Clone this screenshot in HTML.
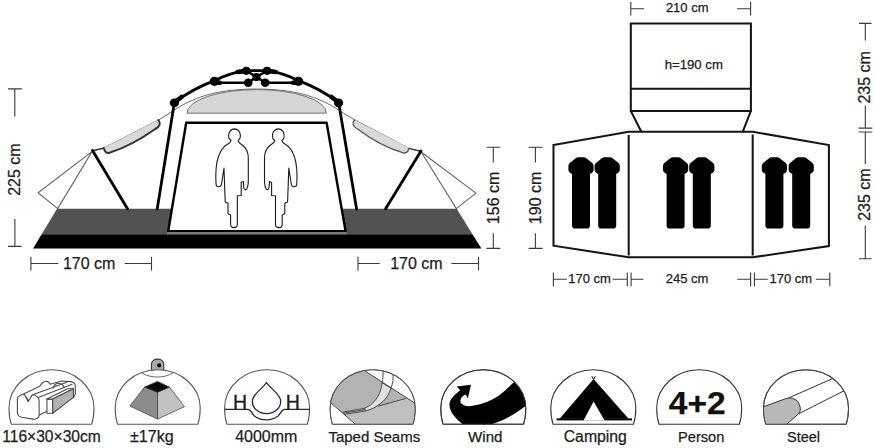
<!DOCTYPE html>
<html>
<head>
<meta charset="utf-8">
<title>Tent dimensions</title>
<style>
html,body{margin:0;padding:0;background:#fff;}
body{width:875px;height:448px;overflow:hidden;font-family:"Liberation Sans",sans-serif;}
svg{display:block;}
text{font-family:"Liberation Sans",sans-serif;fill:#1c1c1c;stroke:#1c1c1c;stroke-width:0.25px;}
.dim{stroke:#3a3a3a;stroke-width:1.1;fill:none;}
.pole{stroke:#000;stroke-width:2.8;fill:none;stroke-linecap:round;stroke-linejoin:round;}
.thin{stroke:#444;stroke-width:0.8;fill:none;}
.plan{stroke:#151515;stroke-width:2.05;fill:none;stroke-linejoin:miter;}
.dome{stroke:#585858;stroke-width:1.1;fill:#fff;}
.j{fill:#000;}
</style>
</head>
<body>
<svg width="875" height="448" viewBox="0 0 875 448">
<rect width="875" height="448" fill="#fff"/>

<!-- ================= SIDE VIEW ================= -->
<g id="side">
  <!-- ground bands -->
  <polygon points="57.1,208.7 171.6,208.7 167.4,234.3 41.7,234.3" fill="#525252"/>
  <polygon points="342.1,208.8 456.7,208.8 472.5,234.3 346.5,234.3" fill="#525252"/>
  <polygon points="41.6,234.2 472.5,234.2 481.4,248.6 33.1,248.6" fill="#000"/>

  <!-- thin guy triangles -->
  <path d="M92,151.6 L38.1,192.7 L57.7,208.6 Z" fill="none" stroke="#666" stroke-width="1.1" stroke-linejoin="round"/>
  <path d="M421.2,152 L475.9,193.1 L456.4,208.6 Z" fill="none" stroke="#666" stroke-width="1.1" stroke-linejoin="round"/>

  <!-- fly outline thin -->
  <path class="thin" d="M92,151.6 L103.7,148.1 L158.6,120 L172.3,111.4 C177,108.2 182,105.2 185.7,103.4 C190,101.3 196,98.8 199.1,97.6 C215,91.5 236,89 256.4,89 C277,89 298,91.5 313.7,97.6 C317,98.8 323,101.3 327.1,103.4 C331,105.2 336,108.2 340.5,111.4 L354.1,119.6 L409.3,148.5 L421.2,152"/>

  <!-- roof window (gray dome) -->
  <path d="M187,113.2 A69.7,23.6 0 0 1 326.4,113.2 Z" fill="#d6d6d6" stroke="#555" stroke-width="0.8"/>

  <!-- flaps -->
  <path d="M158.4,120 C160.8,123 160.3,126.3 155.3,129 Q131.8,145.6 109.5,152.8 C106.3,153.8 104.6,151.5 103.7,148.1 Z" fill="#dadada"/>
  <path d="M158.4,120 C160.8,123 160.3,126.3 155.3,129 Q131.8,145.6 109.5,152.8 C106.3,153.8 104.6,151.5 103.7,148.1" fill="none" stroke="#333" stroke-width="2" stroke-linejoin="round" stroke-linecap="round"/>
  <path d="M354.4,120 C352,123 352.5,126.3 357.5,129 Q381,146.6 403.3,152.8 C406.5,153.8 408.2,151.5 409.1,148.1 Z" fill="#dadada"/>
  <path d="M354.4,120 C352,123 352.5,126.3 357.5,129 Q381,146.6 403.3,152.8 C406.5,153.8 408.2,151.5 409.1,148.1" fill="none" stroke="#555" stroke-width="1.4" stroke-linejoin="round" stroke-linecap="round"/>

  <!-- apex short connectors -->
  <path d="M92.5,150.5 L103.7,148.1" stroke="#222" stroke-width="1.1" fill="none"/>
  <path d="M421,151 L409.3,148.5" stroke="#222" stroke-width="1.1" fill="none"/>

  <!-- A-frame thick legs -->
  <path class="pole" d="M92.5,150.5 L127.5,208.7"/>
  <path class="pole" d="M421,151 L385.6,208.8"/>

  <!-- main poles -->
  <path class="pole" d="M174.4,102.5 L157.2,209"/>
  <path class="pole" d="M338.6,102.5 L356.6,209"/>

  <!-- door frame -->
  <path d="M168.2,231.2 L186.2,122.8 L326.6,122.8 L345.6,231.2 Z" fill="#fff" stroke="#000" stroke-width="2.4" stroke-linejoin="round"/>
  <rect x="167.6" y="232.4" width="179" height="1.8" fill="#777"/>

  <!-- roof hub poles -->
  <path class="pole" d="M174.4,102.5 Q193,88.5 214.7,80.6 Q231,72.5 246.2,70.7 L266.8,70.7 Q282,72.5 298.3,80.6 Q320,88.5 338.6,102.5"/>
  <path class="pole" style="stroke-width:2.4" d="M213,82.8 L248,82.8 M265,82.8 L300,82.8"/>
  <path class="pole" style="stroke-width:2.5" d="M246.3,70.7 L256.5,77 L265.2,82.7 M267,70.7 L256.5,77 L248.2,82.7"/>
  <ellipse class="j" cx="174.4" cy="102.8" rx="4.6" ry="4.4"/>
  <ellipse class="j" cx="338.6" cy="102.8" rx="4.6" ry="4.4"/>
  <ellipse class="j" cx="214.5" cy="81.3" rx="4.8" ry="4.6"/>
  <ellipse class="j" cx="298.5" cy="81.3" rx="4.8" ry="4.6"/>
  <circle class="j" cx="246.3" cy="70.8" r="4.1"/>
  <path class="pole" style="stroke-width:4.6" d="M246.3,70.9 L237.5,72 M267,70.9 L275.8,72 M174.6,102.3 L181.5,97 M338.4,102.3 L331.5,97 M214.5,82.3 L220,82.8 M298.5,82.3 L293,82.8"/>
  <circle class="j" cx="267" cy="70.8" r="4.1"/>
  <circle class="j" cx="256.5" cy="77" r="4.1"/>
  <circle class="j" cx="248.2" cy="82.7" r="4.3"/>
  <circle class="j" cx="265.2" cy="82.7" r="4.3"/>

  <!-- people -->
  <g fill="#fff" stroke="#1a1a1a" stroke-width="1.1" stroke-linejoin="round">
    <path id="man" d="M231,140.5 C227.4,138.2 227.6,129.6 234.5,128.9 C241.4,129.6 241.6,138.2 238,140.5 C238.3,143 241,143.8 243.5,146 C247.2,149.5 248.3,153.5 248.3,158 L248.3,180.5 C248.3,184 247.6,187.5 246.6,189 C245.6,190.2 244,189.6 243.8,187.5 L243.3,181.5 L241.2,182.5 L241.2,195.5 L237.3,195.8 L237.3,224.5 C237.3,228.6 230.6,228.6 230.6,224.5 L230.6,215 L228,213.8 L228,203.3 L225.2,202 L224,168 L221.5,184 C221,187.6 216.2,187.8 216,184 C215.5,174 216.6,162 218.3,157 C220.5,150.5 224.5,146 227.5,144.3 C230,143 230.8,142.5 231,140.3 Z"/>
    <use href="#man" transform="translate(512.8,0) scale(-1,1)"/>
  </g>
</g>

<!-- side view dimensions -->
<g class="dim">
  <path d="M8,88.9 H21.8 M14.8,88.9 V116.4 M14.9,219 V246.4 M8,246.4 H21.6"/>
  <path d="M30.9,256.7 V270.4 M30.9,263.5 H58.2 M124.6,263.5 H151.5 M151.5,256.7 V270.4"/>
  <path d="M358,256.7 V270.4 M358,263.5 H379.8 M451.3,263.5 H478.5 M478.5,256.7 V270.4"/>
  <path d="M486.4,147.3 H500.3 M493.3,147.3 V162.4 M493.3,233.3 V248.4 M486.4,248.4 H500.3"/>
  <path d="M528.6,147.3 H542.6 M535.4,147.3 V162.4 M535.4,233.3 V248.4 M528.6,248.4 H542.6"/>
</g>
<text font-size="16" transform="translate(20,169.6) rotate(-90)" text-anchor="middle">225 cm</text>
<text font-size="16" x="89.2" y="269.3" text-anchor="middle">170 cm</text>
<text font-size="16" x="416.4" y="269.3" text-anchor="middle">170 cm</text>
<text font-size="16" transform="translate(499.2,197.9) rotate(-90)" text-anchor="middle">156 cm</text>
<text font-size="16" transform="translate(541.3,197.9) rotate(-90)" text-anchor="middle">190 cm</text>

<!-- ================= PLAN VIEW ================= -->
<g id="plan">
  <path class="plan" d="M630.8,23.4 H750.9 V110.9 H630.8 Z M630.8,88.7 H750.9"/>
  <path class="plan" d="M630.8,110.9 L641.3,131.7 M750.9,110.9 L742.8,131.7"/>
  <path class="plan" d="M553.5,144.9 L628.7,131.7 H752.7 L828.9,145.1 V246 L752.7,257.3 H628.7 L553.5,245.7 Z"/>
  <path class="plan" d="M628.7,135 V255.5 M752.7,134.5 V255.5"/>
  <g fill="#000">
    <path id="bag" d="M572,173.8 C570,173.2 568.4,171.8 568.4,169.8 L568.4,166.2 C568.4,164.3 569.5,163.2 571,162.1 L575,158.7 C576.3,157.6 577.6,157.3 579,157.3 L583,157.3 C584.4,157.3 585.7,157.6 587,158.7 L591,162.1 C592.5,163.2 593.6,164.3 593.6,166.2 L593.6,169.8 C593.6,171.8 592,173.2 590,173.8 L590,225.4 Q590,228.5 586.9,228.5 L575.1,228.5 Q572,228.5 572,225.4 Z"/>
    <use href="#bag" x="26.2"/>
    <use href="#bag" x="94.6"/>
    <use href="#bag" x="120.8"/>
    <use href="#bag" x="193.4"/>
    <use href="#bag" x="220.2"/>
  </g>
</g>
<g class="dim">
  <path d="M630.8,2 V15.5 M630.8,8.7 H644.2 M737.1,8.7 H750.6 M750.6,2 V15.5"/>
  <path d="M553.4,272.4 V286.2 M553.4,279.2 H566.8 M612.7,279.2 H627.3 M627.3,272.4 V286.2"/>
  <path d="M631.1,272.4 V286.2 M631.1,279.2 H643.4 M737.2,279.2 H750.6 M750.6,272.4 V286.2"/>
  <path d="M754.4,272.4 V286.2 M754.4,279.2 H767.8 M815.7,279.2 H829.8 M829.8,272.4 V286.2"/>
  <path d="M859,23.4 H871.6 M865.3,23.4 V40.6 M865.3,106 V128.1 M858.6,128.1 H872.3 M858.6,132 H872.3 M865.3,132 V164 M865.3,225.6 V258.8 M859,258.8 H871.6"/>
</g>
<text font-size="13" x="687.2" y="11.8" text-anchor="middle">210 cm</text>
<text font-size="13.2" x="693.8" y="68.9" text-anchor="middle">h=190 cm</text>
<text font-size="13" x="589.6" y="282.9" text-anchor="middle">170 cm</text>
<text font-size="13" x="687" y="282.9" text-anchor="middle">245 cm</text>
<text font-size="13" x="790.8" y="282.9" text-anchor="middle">170 cm</text>
<text font-size="16" transform="translate(870,77.3) rotate(-90)" text-anchor="middle">235 cm</text>
<text font-size="16" transform="translate(870,194.6) rotate(-90)" text-anchor="middle">235 cm</text>

<!-- ================= ICONS ================= -->
<defs>
  <path id="domeP" d="M2.3,54.4 C0.8,50 0,44 0,38.3 A42.5,38.3 0 0 1 85,38.3 C85,44 84.2,50 82.7,54.4 Z"/>
  <clipPath id="c1"><use href="#domeP" transform="translate(9.0,369.8)"/></clipPath>
  <clipPath id="c2"><use href="#domeP" transform="translate(115.2,369.8)"/></clipPath>
  <clipPath id="c3"><use href="#domeP" transform="translate(224.6,369.8)"/></clipPath>
  <clipPath id="c4"><use href="#domeP" transform="translate(330.2,369.8)"/></clipPath>
  <clipPath id="c5"><use href="#domeP" transform="translate(440.8,369.8)"/></clipPath>
  <clipPath id="c6"><use href="#domeP" transform="translate(550.8,369.8)"/></clipPath>
  <clipPath id="c7"><use href="#domeP" transform="translate(656.7,369.8)"/></clipPath>
  <clipPath id="c8"><use href="#domeP" transform="translate(763.5,369.8)"/></clipPath>
</defs>

<!-- 1 bag -->
<use href="#domeP" class="dome" transform="translate(9.0,369.8)"/>
<g stroke="#4c4c4c" stroke-width="1.1" fill="#fff" stroke-linejoin="round" stroke-linecap="round">
  <path d="M23.6,393.9 L39.8,386.2 C41.5,382 47.5,378.5 50.1,384.2 L61.7,381 L70.8,381.6 C73.5,382.3 75.3,383.5 75.3,385.5 L75.3,393.9 L73.4,397.4 L39.1,415.3 Z"/>
  <path d="M37.8,397.8 L72.1,384.2 M33.3,394.6 L66.9,382.3" fill="none"/>
  <path d="M53.3,388.1 C54,383.8 60.5,380 64.3,387.5" fill="none"/>
  <path d="M17.4,398.5 C17.4,396.8 18,396.3 19.1,395.9 L22.8,394.2 C23.8,393.8 24.4,394.2 24.9,395.2 L28.1,401.7 L31.8,395.6 C32.4,394.6 33.2,394.4 34.2,394.8 L37,396.6 C38.5,397.6 39.1,398.8 39.1,400.4 L39.1,415.3 C39.1,416.8 38.8,417.4 37.8,417.9 L35.5,419 C34.8,419.3 34,419.3 33.2,419.1 L21.6,417.2 C19.5,416.8 18.6,416.2 18.1,415 L17.6,413.5 C17.4,413 17.4,412.7 17.4,412 Z"/>
  <path d="M46.9,399.1 L52.7,399.1 L52.7,413.3 L46.9,413.3 Z"/>
  <path d="M46.9,399.1 L67.6,388.8 L73.4,388.8 L52.7,399.1 Z"/>
  <path d="M52.7,399.1 L73.4,388.8 L73.4,397.4 L52.7,413.3 Z" fill="#b2b2b2"/>
</g>

<!-- 2 weight -->
<g>
  <path d="M151.4,371 L151.4,364.6 C151.4,357.3 163.8,357.3 163.8,364.6 L163.8,371 Z" fill="#ababab" stroke="#333" stroke-width="1.1"/>
  <use href="#domeP" class="dome" transform="translate(115.2,369.8)"/>
  <path d="M141.8,373 C151,378.4 164,378.4 173,373" fill="none" stroke="#555" stroke-width="0.9"/>
  <circle cx="159.2" cy="365.4" r="2.1" fill="#111"/>
  <g stroke="#333" stroke-width="0.7" stroke-linejoin="round">
    <polygon points="144.6,387.1 157.5,392.2 157.5,419.1 129.9,406" fill="#8c8c8c"/>
    <polygon points="157.5,392.2 169.4,387.1 184.4,406.7 157.5,419.1" fill="#c2c2c2"/>
    <polygon points="144.6,387.1 157.5,381.4 169.4,387.1 157.5,392.2" fill="#0a0a0a"/>
  </g>
</g>

<!-- 3 water -->
<use href="#domeP" class="dome" transform="translate(224.6,369.8)"/>
<g clip-path="url(#c3)" fill="none" stroke="#2a2a2a" stroke-width="1.3">
  <path d="M222,409.4 L247.5,409.4 C251.5,409.4 251,413 254.5,416 C261,421.2 271.5,421.2 278,416 C281.5,413 281,409.4 285,409.4 L312,409.4"/>
  <path d="M266.5,382.6 C262.5,388.6 252.3,394.5 252.3,401.2 C252.3,408.4 258.6,413.6 266.5,413.6 C274.4,413.6 280.7,408.4 280.7,401.2 C280.7,394.5 270.5,388.6 266.5,382.6 Z" fill="#fff"/>
</g>
<text font-size="19.5" x="240" y="409" text-anchor="middle" style="stroke:#1c1c1c;stroke-width:0.35">H</text>
<text font-size="19.5" x="292.7" y="409" text-anchor="middle" style="stroke:#1c1c1c;stroke-width:0.35">H</text>

<!-- 4 seams -->
<use href="#domeP" class="dome" transform="translate(330.2,369.8)"/>
<g clip-path="url(#c4)" stroke-linejoin="round">
  <rect x="328" y="368" width="90" height="58" fill="#b3b3b3"/>
  <path d="M344,414.5 L365.4,411 L377.9,406.2 L405.6,398.5 L416,404 L418,426 L355,426 Z" fill="#bfbfbf"/>
  <polygon points="326,398.5 355.2,424.2 326,426" fill="#fff"/>
  <polygon points="364.7,370.8 416,403.8 420,403 420,364 364.7,364" fill="#fff"/>
  <path d="M382,382.6 C381.5,387 381,390 379.2,393.7 C377.5,397.5 375.5,400.5 372.3,403.4 C370,405.5 367.5,407 364.7,408.2 L365.4,411 C370.5,409.5 374,408.3 377.9,405.5 C382,402.5 384.3,400.5 386.2,397.9 C388.5,394.5 390.3,391 391,388.2 Z" fill="#e0e0e0" stroke="#3a3a3a" stroke-width="0.9"/>
  <g fill="none" stroke="#3a3a3a" stroke-width="0.9">
    <path d="M382.7,369 C383.5,374 383,378.5 382,382.6"/>
    <path d="M392.6,372 C393.8,378 392.8,383.5 391,388.2"/>
    <path d="M364.7,370.8 L416,403.8"/>
    <path d="M330.2,402.2 L355.2,424.2"/>
    <path d="M377.9,406.2 L405.6,398.5"/>
    <path d="M342.5,412.2 L364.7,408.2 M343.2,413.3 L365,409.6 M344,414.5 L365.4,411" stroke-width="0.8"/>
  </g>
</g>
<use href="#domeP" transform="translate(330.2,369.8)" fill="none" stroke="#4a4a4a" stroke-width="1"/>

<!-- 5 wind -->
<use href="#domeP" class="dome" transform="translate(440.8,369.8)"/>
<g clip-path="url(#c5)">
  <path d="M513.5,382.6 C508,388 500,395 496.2,397.2 C488,402 480,405 468.5,406.2 C463.5,406 460,403.8 460.4,400.6 C460.8,397.5 463,395.5 465.7,394.4 L467.8,398.5 L471,384.7 L456.7,386.5 L460.2,390.2 C455,394 451,398.5 449.8,402 C448.6,406.5 450.5,412 454.6,416.5 C457,419.5 460,422 462.9,424.5 L491,424.5 C497,422.5 501,421 504.5,419.3 C511,416 519,411 526.5,405.3 L531,400 L531,378 Z" fill="#000"/>
</g>
<use href="#domeP" transform="translate(440.8,369.8)" fill="none" stroke="#333" stroke-width="1"/>

<!-- 6 camping -->
<use href="#domeP" class="dome" style="stroke:#333" transform="translate(550.8,369.8)"/>
<g>
  <polygon points="593.6,379 559.6,418.8 628.6,418.8" fill="#000"/>
  <rect x="556.6" y="418.4" width="75.4" height="2" fill="#000"/>
  <polygon points="593.6,401.4 583.5,420.6 604.6,420.6" fill="#fff"/>
  <path d="M591.8,376.2 L593.6,379.4 L595.4,376.2" fill="none" stroke="#000" stroke-width="1"/>
</g>

<!-- 7 person -->
<use href="#domeP" class="dome" style="stroke:#333" transform="translate(656.7,369.8)"/>
<text font-size="32" font-weight="bold" x="697.2" y="413.7" text-anchor="middle" textLength="57" lengthAdjust="spacingAndGlyphs" style="fill:#111">4+2</text>

<!-- 8 steel -->
<use href="#domeP" class="dome" transform="translate(763.5,369.8)"/>
<g clip-path="url(#c8)" stroke="#333" stroke-width="1" stroke-linejoin="round">
  <path d="M760,408 L786,398.6 C792,396.6 797.5,399.5 799.5,404.8 C801,409 800.5,412 798.3,414 L785.3,425.5 L760,425.5 Z" fill="#b8b8b8"/>
  <path d="M788.5,398 L833,378.4 M798.6,413.8 L846,389.8" fill="none"/>
</g>
<use href="#domeP" transform="translate(763.5,369.8)" fill="none" stroke="#444" stroke-width="1"/>

<text font-size="15.6" x="51.5" y="442.1" text-anchor="middle">116×30×30cm</text>
<text font-size="16" x="151.8" y="442.1" text-anchor="middle">±17kg</text>
<text font-size="16" x="266.3" y="442.1" text-anchor="middle">4000mm</text>
<text font-size="15" x="374.3" y="442.1" text-anchor="middle">Taped Seams</text>
<text font-size="15.1" x="485.3" y="442.1" text-anchor="middle">Wind</text>
<text font-size="15.8" x="595.3" y="442.1" text-anchor="middle">Camping</text>
<text font-size="14.6" x="701.2" y="442.1" text-anchor="middle">Person</text>
<text font-size="14.5" x="803.5" y="442.1" text-anchor="middle">Steel</text>
</svg>
</body>
</html>
